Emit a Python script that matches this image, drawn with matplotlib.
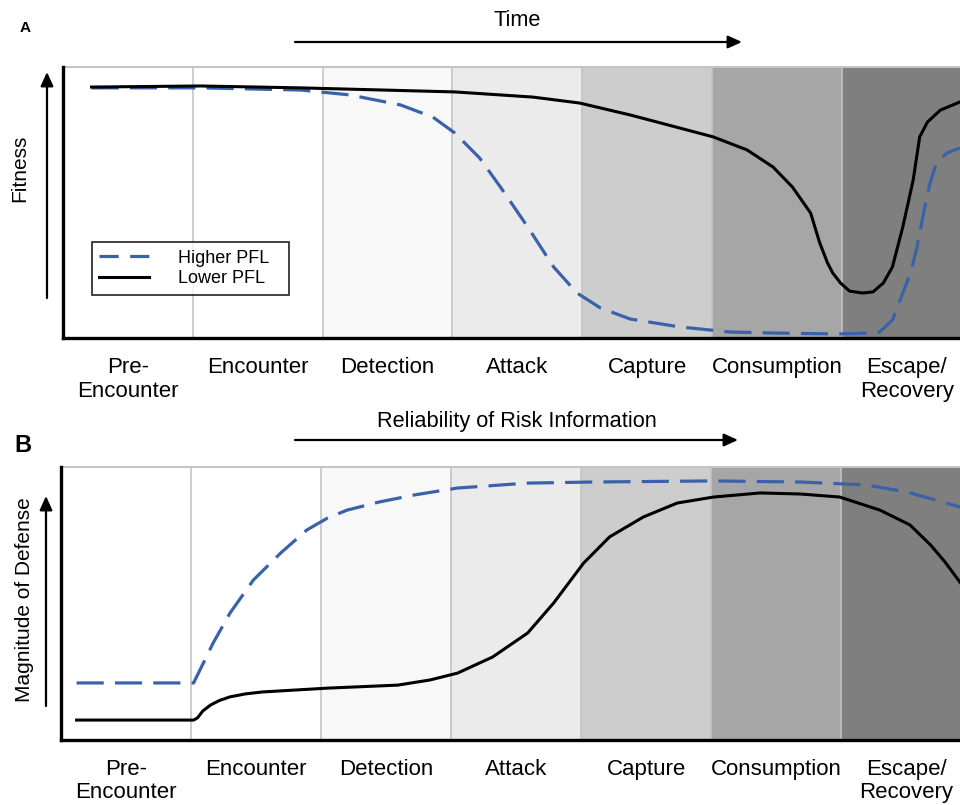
import matplotlib
matplotlib.use("Agg")
import matplotlib.pyplot as plt
from matplotlib.lines import Line2D
from matplotlib.patches import FancyArrowPatch

plt.rcParams['font.family'] = ['Liberation Sans', 'DejaVu Sans']

stages = ["Pre-\nEncounter", "Encounter", "Detection", "Attack", "Capture",
          "Consumption", "Escape/\nRecovery"]
band_colors = ["#ffffff", "#ffffff", "#f8f8f8", "#ebebeb", "#cdcdcd", "#a6a6a6", "#7f7f7f"]

# Panel A: fitness (0-100) vs stage position
a_low_x = [0.22, 1.06, 1.83, 3.02, 3.62, 3.98, 4.37, 4.75, 5.01, 5.27, 5.47, 5.62, 5.76,
           5.83, 5.89, 5.93, 5.99, 6.06, 6.16, 6.24, 6.32, 6.39, 6.47, 6.55, 6.60, 6.66,
           6.76, 6.91]
a_low_y = [92.6, 93.0, 92.3, 90.8, 88.9, 86.7, 82.3, 77.5, 74.2, 69.4, 63.1, 55.7, 46.1,
           35.1, 27.7, 24.0, 20.3, 17.3, 16.6, 17.0, 20.3, 26.2, 41.0, 58.3, 74.2, 79.7,
           84.1, 87.1]
a_high_x = [0.22, 1.06, 1.83, 2.21, 2.60, 2.85, 3.02, 3.21, 3.37, 3.58, 3.78, 3.96, 4.14,
            4.37, 4.75, 5.14, 5.52, 5.95, 6.22, 6.29, 6.39, 6.47, 6.53, 6.58, 6.63, 6.68,
            6.73, 6.81, 6.91]
a_high_y = [92.3, 92.3, 91.5, 89.7, 86.0, 81.5, 75.6, 66.4, 55.7, 41.0, 26.2, 16.6, 11.1,
            7.0, 4.1, 2.2, 1.8, 1.5, 1.8, 2.2, 6.6, 16.6, 24.0, 33.6, 46.1, 57.2, 64.6,
            68.3, 70.1]

# Panel B: magnitude of defense (0-100) vs stage position
b_high_x = [0.12, 1.02, 1.17, 1.30, 1.48, 1.69, 1.89, 2.05, 2.20, 2.45, 2.71, 3.05, 3.59,
            4.09, 5.02, 5.69, 6.20, 6.51, 6.92]
b_high_y = [20.9, 20.9, 35.5, 46.5, 58.6, 68.5, 76.9, 81.3, 84.2, 87.2, 89.7, 92.3, 94.1,
            94.5, 94.9, 94.5, 93.4, 90.8, 85.3]
b_low_x = [0.12, 1.02, 1.05, 1.09, 1.15, 1.22, 1.30, 1.42, 1.55, 2.05, 2.59, 2.84, 3.05,
           3.32, 3.59, 3.79, 4.02, 4.22, 4.48, 4.74, 5.02, 5.38, 5.69, 5.99, 6.30, 6.53,
           6.69, 6.80, 6.92]
b_low_y = [7.3, 7.3, 8.1, 10.6, 12.8, 14.5, 15.8, 16.9, 17.6, 19.0, 20.1, 22.0, 24.5,
           30.4, 39.2, 50.2, 64.8, 74.4, 81.7, 86.8, 89.0, 90.5, 90.1, 89.0, 84.2, 78.8,
           71.4, 65.2, 57.5]

BLUE = "#3a62aa"
W, H = 960, 805
fig = plt.figure(figsize=(W / 100, H / 100), dpi=100)


def setup(ax, xmax, pad, ls):
    for i, c in enumerate(band_colors):
        ax.axvspan(i, i + 1, color=c, lw=0, zorder=0)
    for i in range(1, 7):
        ax.axvline(i, color="#c4c4c4", lw=1.2, zorder=1)
    ax.set_xlim(0, xmax)
    ax.set_ylim(0, 100)
    ax.spines['right'].set_visible(False)
    ax.spines['top'].set_color("#c4c4c4")
    ax.spines['top'].set_linewidth(1.5)
    ax.spines['left'].set_linewidth(2.4)
    ax.spines['bottom'].set_linewidth(2.4)
    ax.spines['left'].set_zorder(5)
    ax.spines['bottom'].set_zorder(5)
    ax.set_yticks([])
    ax.set_xticks([i + 0.5 for i in range(7)])
    ax.set_xticklabels(stages, fontsize=16, linespacing=ls)
    ax.tick_params(axis='x', length=0, pad=pad)


axA = fig.add_axes([63 / W, (H - 338) / H, (W - 63) / W, (338 - 67) / H])
setup(axA, (W - 63) / 129.8, 13.5, 1.22)
axA.plot(a_high_x, a_high_y, color=BLUE, lw=2.3, dashes=(8.5, 3.5), zorder=3)
axA.plot(a_low_x, a_low_y, color="black", lw=2.2, zorder=4, solid_joinstyle="round")

handles = [Line2D([], [], color=BLUE, lw=2.3, dashes=(6.0, 3.6)),
           Line2D([], [], color="black", lw=2.2)]
leg = axA.legend(handles, ["Higher PFL", "Lower PFL"], loc="lower left",
                 bbox_to_anchor=(0.032, 0.16, 0.22, 0.195), mode="expand",
                 fontsize=13, frameon=True, fancybox=False, handlelength=2.75,
                 borderpad=0.42, labelspacing=0.18, handletextpad=1.6, borderaxespad=0)
leg.get_frame().set_edgecolor("black")
leg.get_frame().set_linewidth(1.3)
leg.set_zorder(6)

axB = fig.add_axes([61 / W, (H - 740) / H, (W - 61) / W, (740 - 467) / H])
setup(axB, (W - 61) / 130.0, 14, 1.12)
axB.plot(b_high_x, b_high_y, color=BLUE, lw=2.3, dashes=(8.5, 3.5), zorder=3)
axB.plot(b_low_x, b_low_y, color="black", lw=2.2, zorder=4, solid_joinstyle="round")


def fx(px):
    return px / W


def fy(py):
    return 1 - py / H


def arrow(p0, p1):
    fig.add_artist(FancyArrowPatch((fx(p0[0]), fy(p0[1])), (fx(p1[0]), fy(p1[1])),
                                   transform=fig.transFigure,
                                   arrowstyle="-|>,head_length=0.42,head_width=0.19",
                                   mutation_scale=20, color="black", lw=1.6,
                                   shrinkA=0, shrinkB=0))


fig.text(fx(20), fy(28), "A", fontsize=11, fontweight="bold", ha="left", va="center")
fig.text(fx(517), fy(20), "Time", fontsize=15.7, ha="center", va="center")
arrow((295, 42), (742, 42))
fig.text(fx(20), fy(168), "Fitness", fontsize=15, rotation=90, ha="center", va="center")
arrow((47, 298), (47, 72))

fig.text(fx(14), fy(445), "B", fontsize=17, fontweight="bold", ha="left", va="center")
fig.text(fx(517), fy(421), "Reliability of Risk Information", fontsize=15.7,
         ha="center", va="center")
arrow((295, 440), (738, 440))
fig.text(fx(25), fy(600), "Magnitude of Defense", fontsize=15, rotation=90,
         ha="center", va="center")
arrow((46, 706), (46, 496))

fig.savefig("out.png", dpi=100)
